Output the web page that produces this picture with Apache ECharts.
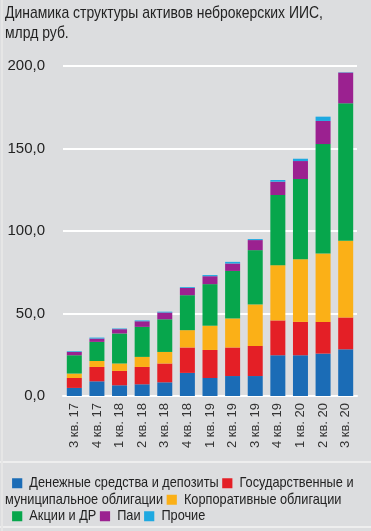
<!DOCTYPE html>
<html>
<head>
<meta charset="utf-8">
<script src="https://cdn.jsdelivr.net/npm/echarts@6/dist/echarts.min.js"></script>
<style>
html,body{margin:0;padding:0;background:#dcdddf;}
#c{width:371px;height:531px;}
</style>
</head>
<body>
<div id="c"></div>
<script>
var categories = ['3 кв. 17','4 кв. 17','1 кв. 18','2 кв. 18','3 кв. 18','4 кв. 18','1 кв. 19','2 кв. 19','3 кв. 19','4 кв. 19','1 кв. 20','2 кв. 20','3 кв. 20'];
var deposits  = [4.9, 8.9, 6.5, 7.1, 8.3, 14.0, 10.9, 12.1, 12.1, 24.7, 24.7, 25.7, 28.3];
var govBonds  = [6.0, 8.7, 8.7, 10.5, 11.4, 15.4, 17.0, 17.3, 18.2, 21.1, 20.2, 19.2, 19.3];
var corpBonds = [2.7, 3.6, 4.5, 6.1, 7.0, 10.5, 14.7, 17.6, 25.2, 33.5, 38.0, 41.5, 46.5];
var shares    = [11.1, 11.6, 18.2, 18.2, 19.8, 21.2, 25.2, 28.8, 32.9, 42.5, 48.6, 66.3, 83.3];
var funds     = [2.0, 2.0, 2.6, 3.4, 4.1, 4.4, 4.8, 4.5, 6.1, 8.1, 10.9, 14.0, 18.6];
var other     = [0.4, 0.6, 0.4, 0.5, 0.5, 0.5, 0.7, 1.0, 0.6, 1.0, 1.4, 2.6, 0.2];
var seriesNames = ['Денежные средства и депозиты','Государственные и муниципальное облигации','Корпоративные облигации','Акции и ДР','Паи','Прочие'];
var yTicks = [0, 50, 100, 150, 200];
var titleLines = ['Динамика структуры активов неброкерских ИИС,', 'млрд руб.'];

var colors = ['#1b6cb6','#e41f26','#fbb017','#07a64c','#9b2190','#1ea9e1'];
var dataSets = [deposits, govBonds, corpBonds, shares, funds, other];
var sans = '"Liberation Sans", Arial, sans-serif';

var series = dataSets.map(function(d, i){
  return {
    name: seriesNames[i], type: 'bar', stack: 'total', data: d,
    barWidth: 15, itemStyle: {color: colors[i]}, emphasis: {disabled: true}
  };
});

var box = function(c){ return {backgroundColor: c, width: 12, height: 10}; };

var chart = echarts.init(document.getElementById('c'), null, {renderer: 'canvas'});
chart.setOption({
  backgroundColor: '#dcdddf',
  animation: false,
  grid: {left: 63, right: 14, top: 66, bottom: 135, containLabel: false},
  xAxis: {
    type: 'category', data: categories,
    axisLine: {show: true, lineStyle: {color: '#ffffff', width: 2}},
    axisTick: {show: false},
    axisLabel: {rotate: 90, margin: 7, fontFamily: sans, fontSize: 13, color: '#333'}
  },
  yAxis: {
    type: 'value', min: yTicks[0], max: yTicks[yTicks.length-1], interval: 50,
    axisLine: {show: false}, axisTick: {show: false},
    splitLine: {lineStyle: {color: '#ffffff', width: 2}},
    axisLabel: {
      margin: 18, fontFamily: sans, fontSize: 15, color: '#222',
      formatter: function(v){ return v.toFixed(1).replace('.', ','); }
    }
  },
  series: series,
  graphic: [
    {type: 'line', shape: {x1: 0, y1: 462, x2: 371, y2: 462}, style: {stroke: '#eeeeee', lineWidth: 2}},
    {type: 'line', shape: {x1: 0, y1: 527, x2: 371, y2: 527}, style: {stroke: '#eeeeee', lineWidth: 2}},
    {type: 'line', shape: {x1: 2, y1: 0, x2: 2, y2: 531}, style: {stroke: '#e6e6e6', lineWidth: 2}},
    {
      type: 'text', x: 5, y: 3, scaleX: 0.82,
      style: {
        text: titleLines.join('\n'),
        font: '17px ' + sans, fill: '#222', lineHeight: 20
      }
    },
    {
      type: 'text', x: 5, y: 475, scaleX: 0.85,
      style: {
        text: '  {a|}  ' + seriesNames[0] + ' {b|}  Государственные и\nмуниципальное облигации {c|}  ' + seriesNames[2] + '\n  {d|}  ' + seriesNames[3] + ' {e|}  ' + seriesNames[4] + ' {f|}  ' + seriesNames[5],
        font: '15px ' + sans,
        fill: '#222',
        lineHeight: 16.5,
        rich: {a: box(colors[0]), b: box(colors[1]), c: box(colors[2]), d: box(colors[3]), e: box(colors[4]), f: box(colors[5])}
      }
    }
  ]
});
</script>
</body>
</html>
